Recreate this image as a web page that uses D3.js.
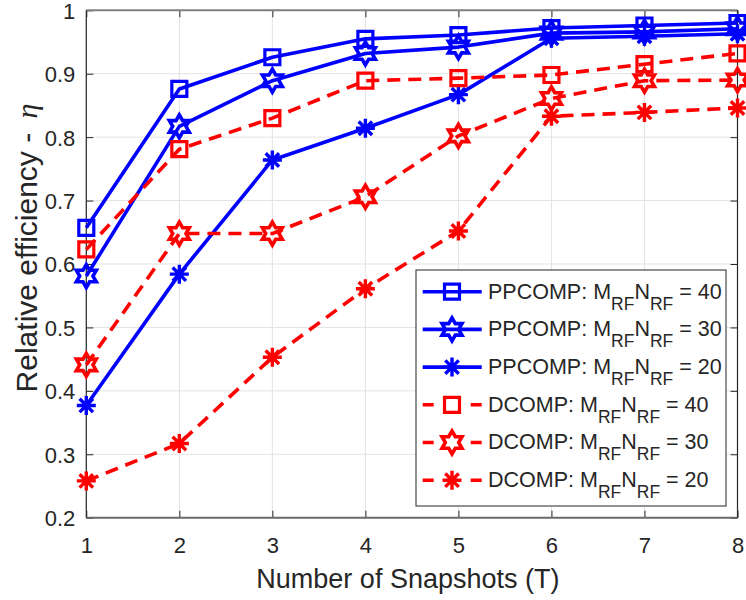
<!DOCTYPE html>
<html>
<head>
<meta charset="utf-8">
<script src="https://cdn.jsdelivr.net/npm/d3@7"></script>
<style>
  html, body { margin: 0; padding: 0; background: #fff; }
  svg { display: block; }
  text { font-family: "Liberation Sans", Arial, Helvetica, sans-serif; fill: #262626; }
</style>
</head>
<body>
<svg id="chart" width="746" height="600"></svg>
<script>
// Number of snapshots T
const snapshots = [1, 2, 3, 4, 5, 6, 7, 8];

// Relative efficiency per scheme and M_RF * N_RF budget
const ppcomp40 = [0.657, 0.876, 0.926, 0.955, 0.961, 0.972, 0.976, 0.980];
const ppcomp30 = [0.581, 0.817, 0.889, 0.932, 0.942, 0.964, 0.966, 0.971];
const ppcomp20 = [0.377, 0.584, 0.764, 0.814, 0.867, 0.956, 0.959, 0.963];
const dcomp40  = [0.623, 0.781, 0.830, 0.889, 0.893, 0.898, 0.915, 0.932];
const dcomp30  = [0.441, 0.648, 0.648, 0.706, 0.802, 0.861, 0.889, 0.890];
const dcomp20  = [0.258, 0.317, 0.453, 0.561, 0.652, 0.833, 0.839, 0.846];

const seriesNames = ["PPCOMP", "PPCOMP", "PPCOMP", "DCOMP", "DCOMP", "DCOMP"];
const seriesBudgets = [40, 30, 20, 40, 30, 20];
const seriesValues = [ppcomp40, ppcomp30, ppcomp20, dcomp40, dcomp30, dcomp20];

const yTicks = [0.2, 0.3, 0.4, 0.5, 0.6, 0.7, 0.8, 0.9, 1];
const xTicks = snapshots;

// Styling per series
const colors  = ["#0000ff", "#0000ff", "#0000ff", "#ff0000", "#ff0000", "#ff0000"];
const dashed  = [false, false, false, true, true, true];
const markers = ["square", "hexagram", "asterisk", "square", "hexagram", "asterisk"];

const svg = d3.select("#chart");
const plot = { left: 86.3, right: 737.5, top: 10.3, bottom: 517.7 };

const x = d3.scaleLinear().domain([1, 8]).range([plot.left, plot.right]);
const y = d3.scaleLinear().domain([0.2, 1]).range([plot.bottom, plot.top]);

// Grid
const grid = svg.append("g").attr("stroke", "#e3e3e3").attr("stroke-width", 1);
grid.selectAll("line.gx").data(xTicks).join("line")
  .attr("x1", d => x(d)).attr("x2", d => x(d))
  .attr("y1", plot.top).attr("y2", plot.bottom);
grid.selectAll("line.gy").data(yTicks).join("line")
  .attr("x1", plot.left).attr("x2", plot.right)
  .attr("y1", d => y(d)).attr("y2", d => y(d));

// Axes with inward ticks
const tickLen = 7;
const gx = svg.append("g").attr("transform", `translate(0,${plot.bottom})`)
  .call(d3.axisBottom(x).tickValues(xTicks).tickFormat(d3.format("d"))
    .tickSizeInner(-tickLen).tickSizeOuter(0).tickPadding(20));
const gy = svg.append("g").attr("transform", `translate(${plot.left},0)`)
  .call(d3.axisLeft(y).tickValues(yTicks).tickFormat(d => d === 1 ? "1" : d3.format(".1f")(d))
    .tickSizeInner(-tickLen).tickSizeOuter(0).tickPadding(11));
const gxt = svg.append("g").attr("transform", `translate(0,${plot.top})`)
  .call(d3.axisTop(x).tickValues(xTicks).tickFormat("").tickSizeInner(-tickLen).tickSizeOuter(0));
const gyr = svg.append("g").attr("transform", `translate(${plot.right},0)`)
  .call(d3.axisRight(y).tickValues(yTicks).tickFormat("").tickSizeInner(-tickLen).tickSizeOuter(0));

[gx, gy, gxt, gyr].forEach(g => {
  g.select(".domain").remove();
  g.selectAll(".tick line").attr("stroke", "#262626");
  g.selectAll("text").style("font-size", "22px").attr("fill", "#262626")
    .style("font-family", "'Liberation Sans', Arial, sans-serif");
});
gy.selectAll("text").attr("dy", "0.36em");

// Frame
const frame = svg.append("g");
frame.append("line").attr("x1", plot.left).attr("x2", plot.right)
  .attr("y1", plot.top).attr("y2", plot.top).attr("stroke", "#808080").attr("stroke-width", 2);
frame.append("line").attr("x1", plot.left).attr("x2", plot.right)
  .attr("y1", plot.bottom).attr("y2", plot.bottom).attr("stroke", "#6a6a6a").attr("stroke-width", 2);
frame.append("line").attr("x1", plot.left).attr("x2", plot.left)
  .attr("y1", plot.top).attr("y2", plot.bottom).attr("stroke", "#262626").attr("stroke-width", 1.2);
frame.append("line").attr("x1", plot.right).attr("x2", plot.right)
  .attr("y1", plot.top).attr("y2", plot.bottom).attr("stroke", "#262626").attr("stroke-width", 1.2);

// Marker shapes
function markerPath(type) {
  if (type === "square") {
    const h = 7.5;
    return `M${-h},${-h}H${h}V${h}H${-h}Z`;
  }
  if (type === "hexagram") {
    const R = 11.5, r = R / Math.sqrt(3);
    const pts = d3.range(12).map(i => {
      const a = -Math.PI / 2 + i * Math.PI / 6;
      const rad = i % 2 === 0 ? R : r;
      return [rad * Math.cos(a), rad * Math.sin(a)];
    });
    return "M" + pts.map(p => p.join(",")).join("L") + "Z";
  }
  // asterisk: plus and cross combined
  const a = 9.5, d = a * Math.SQRT1_2;
  return `M${-a},0H${a}M0,${-a}V${a}M${-d},${-d}L${d},${d}M${-d},${d}L${d},${-d}`;
}
const markerWidth = { square: 3.2, hexagram: 3.6, asterisk: 3.4 };

const line = d3.line().x((d, i) => x(snapshots[i])).y(d => y(d));

const series = svg.append("g");
seriesValues.forEach((vals, k) => {
  const g = series.append("g");
  g.append("path").datum(vals)
    .attr("d", line)
    .attr("fill", "none")
    .attr("stroke", colors[k])
    .attr("stroke-width", 3.6)
    .attr("stroke-linejoin", "round")
    .attr("stroke-dasharray", dashed[k] ? "13,8" : null);
  g.selectAll("path.mk").data(vals).join("path")
    .attr("class", "mk")
    .attr("transform", (d, i) => `translate(${x(snapshots[i])},${y(d)})`)
    .attr("d", markerPath(markers[k]))
    .attr("fill", "none")
    .attr("stroke", colors[k])
    .attr("stroke-width", markerWidth[markers[k]])
    .attr("stroke-linejoin", "miter");
});

// Legend
const lg = svg.append("g");
lg.append("rect").attr("x", 416).attr("y", 270).attr("width", 310).attr("height", 236)
  .attr("fill", "#fff").attr("stroke", "#262626").attr("stroke-width", 1);
seriesValues.forEach((vals, k) => {
  const cy = 291.7 + k * 37.7;
  const row = lg.append("g");
  row.append("line").attr("x1", 422.7).attr("x2", 481.7).attr("y1", cy).attr("y2", cy)
    .attr("stroke", colors[k]).attr("stroke-width", 3.6)
    .attr("stroke-dasharray", dashed[k] ? "11,37" : null);
  row.append("path").attr("transform", `translate(452,${cy})`)
    .attr("d", markerPath(markers[k]))
    .attr("fill", "none").attr("stroke", colors[k]).attr("stroke-width", markerWidth[markers[k]]);
  const t = row.append("text").attr("x", 488).attr("y", cy + 6.8).style("font-size", "21.5px").attr("fill", "#000");
  t.append("tspan").text(`${seriesNames[k]}: M`);
  t.append("tspan").attr("dy", 11).style("font-size", "17.5px").text("RF");
  t.append("tspan").attr("dy", -11).text("N");
  t.append("tspan").attr("dy", 11).style("font-size", "17.5px").text("RF");
  t.append("tspan").attr("dy", -11).text(` = ${seriesBudgets[k]}`);
});

// Axis titles
svg.append("text")
  .attr("x", (plot.left + plot.right) / 2 - 4).attr("y", 588)
  .attr("text-anchor", "middle").style("font-size", "27px")
  .text("Number of Snapshots (T)");

const yl = svg.append("text")
  .attr("transform", `translate(37,${(plot.top + plot.bottom) / 2 - 16}) rotate(-90)`)
  .attr("text-anchor", "middle").style("font-size", "30px");
yl.append("tspan").text("Relative efficiency - ");
yl.append("tspan").style("font-family", "'Liberation Serif', 'Times New Roman', serif")
  .style("font-style", "italic").attr("dx", 6).text("η");
</script>
</body>
</html>
